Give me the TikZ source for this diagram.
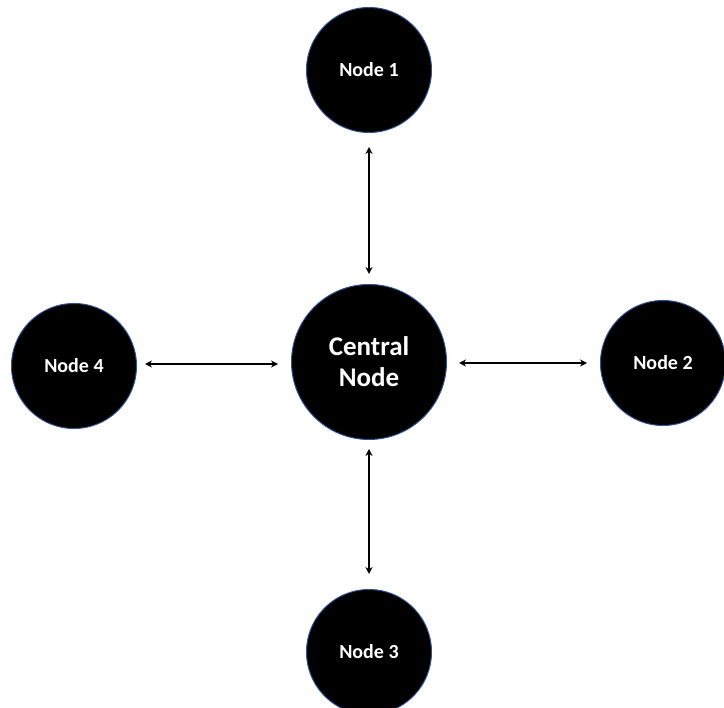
\documentclass[tikz,border=0pt]{standalone}
\usepackage{fontspec}
\setmainfont{Carlito}
\usetikzlibrary{arrows.meta}
\begin{document}
\begin{tikzpicture}[x=1pt,y=-1pt,
  hub/.style={circle, fill=black, draw=ringblue, line width=1pt, inner sep=0pt,
    text=white, align=center},
  small/.style={hub, minimum size=125pt, font=\bfseries\fontsize{20}{24}\selectfont},
  link/.style={line width=1.6pt, {Stealth[length=7pt,width=7pt]}-{Stealth[length=7pt,width=7pt]}}]
  \definecolor{ringblue}{HTML}{2F528F}
  \useasboundingbox (0,0) rectangle (724,708);
  \begin{scope}
    \clip (0,0) rectangle (724,708);
    \node[hub, minimum size=155pt, font=\bfseries\fontsize{27}{31}\selectfont] (c) at (369,362) {Central\\Node};
    \node[small] (n1) at (369,70) {Node 1};
    \node[small] (n2) at (663,363) {Node 2};
    \node[small] (n3) at (369,652) {Node 3};
    \node[small] (n4) at (74,366) {Node 4};
  \end{scope}
  \draw[link] ([yshift=-14pt]n1.south) -- ([yshift=10pt]c.north);
  \draw[link] ([xshift=12pt]c.east |- 0,363) coordinate (a) -- ([xshift=-13pt]n2.west |- a);
  \draw[link] ([yshift=-9pt]c.south) -- ([yshift=15pt]n3.north);
  \draw[link] ([xshift=8pt]n4.east |- 0,364) coordinate (b) -- ([xshift=-13pt]c.west |- b);
\end{tikzpicture}
\end{document}
